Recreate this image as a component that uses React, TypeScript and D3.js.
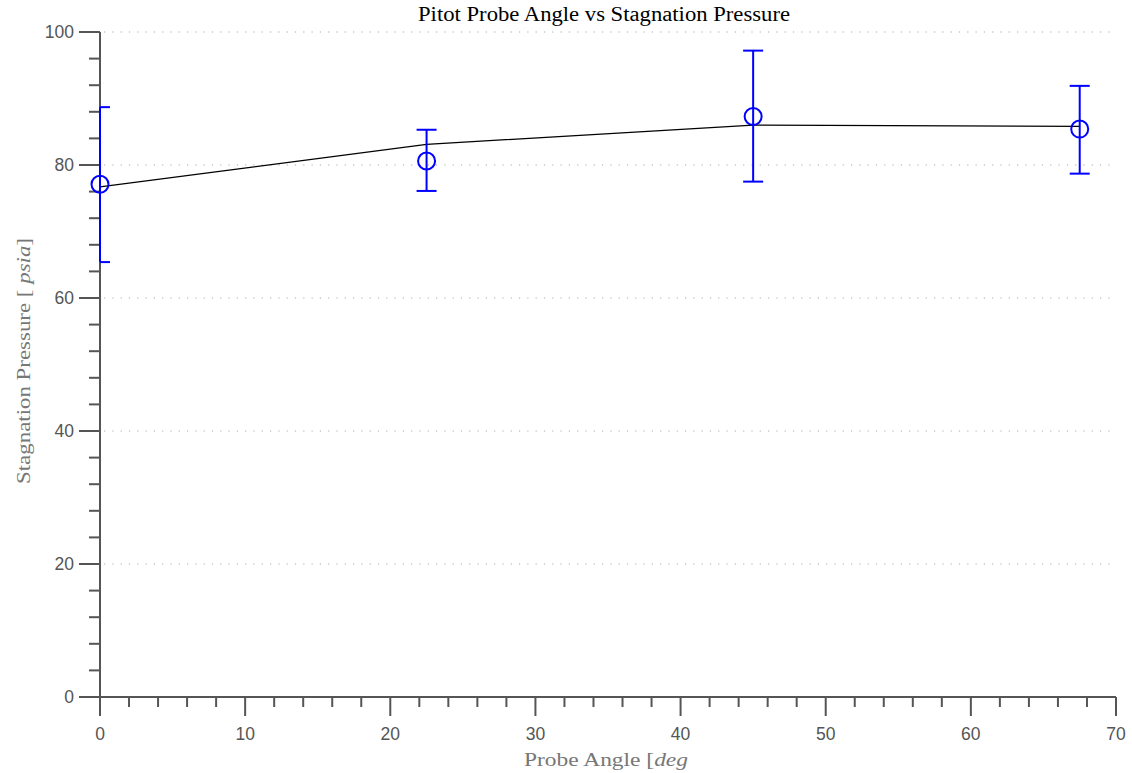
import React from "react";
import * as d3 from "d3";

const angles = [0, 22.5, 45, 67.5];
const measured = [77.1, 80.6, 87.3, 85.4];
const errUpper = [88.7, 85.3, 97.2, 91.9];
const errLower = [65.4, 76.1, 77.5, 78.7];
const fitValues = [76.7, 83.1, 86.0, 85.8];

const xMajorTicks = [0, 10, 20, 30, 40, 50, 60, 70];
const xMinorTicks = [2, 4, 6, 8, 12, 14, 16, 18, 22, 24, 26, 28, 32, 34, 36, 38, 42, 44, 46, 48, 52, 54, 56, 58, 62, 64, 66, 68];
const yMajorTicks = [0, 20, 40, 60, 80, 100];
const yMinorTicks = [4, 8, 12, 16, 24, 28, 32, 36, 44, 48, 52, 56, 64, 68, 72, 76, 84, 88, 92, 96];
const yGridTicks = [20, 40, 60, 80, 100];

const titleText = "Pitot Probe Angle vs Stagnation Pressure";

const W = 1132;
const H = 773;
const M = { left: 100, right: 16, top: 32, bottom: 76 };

export default function App() {
  const x = d3.scaleLinear().domain([0, 70]).range([M.left, W - M.right]);
  const y = d3.scaleLinear().domain([0, 100]).range([H - M.bottom, M.top]);
  const y0 = y(0);
  const x0 = x(0);
  const axisColor = "#555";
  const fitLine = d3
    .line<number>()
    .x((_, i) => x(angles[i]))
    .y((d) => y(d));

  return (
    <svg
      width={W}
      height={H}
      style={{ position: "absolute", left: 0, top: 0, background: "#fff" }}
    >
      {/* grid */}
      {yGridTicks.map((t) => (
        <line
          key={"g" + t}
          x1={x0 + 4}
          x2={x(70)}
          y1={y(t)}
          y2={y(t)}
          stroke="#aaa"
          strokeWidth={1.2}
          strokeDasharray="1.2 7.1"
        />
      ))}
      {/* x axis */}
      <line x1={x0 - 21} x2={x(70)} y1={y0} y2={y0} stroke={axisColor} strokeWidth={2} />
      {xMajorTicks.map((t) => (
        <g key={"xm" + t}>
          <line x1={x(t)} x2={x(t)} y1={y0} y2={y0 + 19} stroke={axisColor} strokeWidth={2} />
          <text
            x={x(t)}
            y={y0 + 43}
            textAnchor="middle"
            fontFamily="'Liberation Sans', Arial, sans-serif"
            fontSize={17.5}
            fill="#555"
          >
            {t}
          </text>
        </g>
      ))}
      {xMinorTicks.map((t) => (
        <line key={"xn" + t} x1={x(t)} x2={x(t)} y1={y0} y2={y0 + 10} stroke={axisColor} strokeWidth={2} />
      ))}
      {/* y axis */}
      <line x1={x0} x2={x0} y1={y(100)} y2={y0} stroke={axisColor} strokeWidth={2} />
      {yMajorTicks.map((t) => (
        <g key={"ym" + t}>
          <line x1={x0 - 21} x2={x0} y1={y(t)} y2={y(t)} stroke={axisColor} strokeWidth={2} />
          <text
            x={x0 - 26}
            y={y(t)}
            dy="0.35em"
            textAnchor="end"
            fontFamily="'Liberation Sans', Arial, sans-serif"
            fontSize={17.5}
            fill="#555"
          >
            {t}
          </text>
        </g>
      ))}
      {yMinorTicks.map((t) => (
        <line key={"yn" + t} x1={x0 - 11} x2={x0} y1={y(t)} y2={y(t)} stroke={axisColor} strokeWidth={2} />
      ))}

      {/* fit line */}
      <path d={fitLine(fitValues) || ""} fill="none" stroke="#000" strokeWidth={1.2} />

      {/* error bars and markers */}
      {angles.map((a, i) => (
        <g key={"e" + i} stroke="#0000ff" strokeWidth={2} fill="none">
          <line x1={x(a)} x2={x(a)} y1={y(errUpper[i])} y2={y(errLower[i])} />
          <line x1={x(a) - (i === 0 ? 0 : 10)} x2={x(a) + 10} y1={y(errUpper[i])} y2={y(errUpper[i])} />
          <line x1={x(a) - (i === 0 ? 0 : 10)} x2={x(a) + 10} y1={y(errLower[i])} y2={y(errLower[i])} />
          <circle cx={x(a)} cy={y(measured[i])} r={8.5} />
        </g>
      ))}

      {/* title */}
      <text
        x={604}
        y={21}
        textAnchor="middle"
        fontFamily="'Liberation Serif', 'Times New Roman', serif"
        fontSize={20}
        fill="#000"
        textLength={372}
        lengthAdjust="spacingAndGlyphs"
      >
        {titleText}
      </text>
      {/* x label */}
      <text
        x={606}
        y={766}
        textAnchor="middle"
        fontFamily="'Liberation Serif', 'Times New Roman', serif"
        fontSize={19}
        fill="#777"
        textLength={164}
        lengthAdjust="spacingAndGlyphs"
      >
        Probe Angle [<tspan fontStyle="italic">deg</tspan>
      </text>
      {/* y label */}
      <text
        transform="translate(30,361) rotate(-90)"
        textAnchor="middle"
        fontFamily="'Liberation Serif', 'Times New Roman', serif"
        fontSize={19}
        fill="#777"
        textLength={246}
        lengthAdjust="spacingAndGlyphs"
      >
        Stagnation Pressure [ <tspan fontStyle="italic">psia</tspan>]
      </text>
    </svg>
  );
}
